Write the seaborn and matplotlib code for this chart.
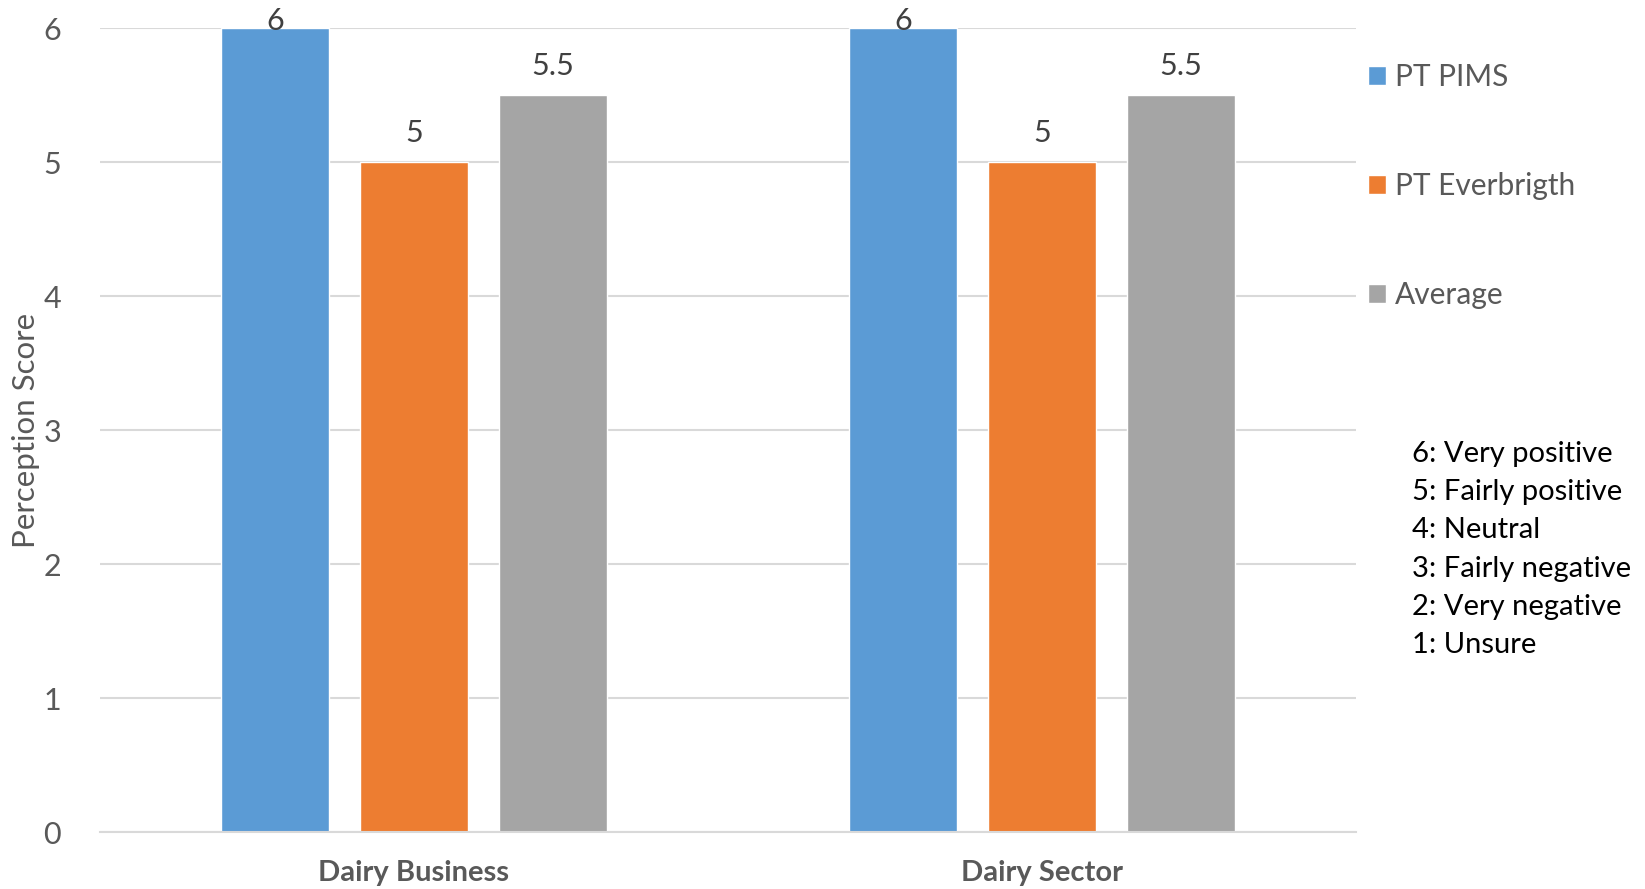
import matplotlib
matplotlib.use("Agg")
import matplotlib.pyplot as plt
import seaborn as sns
import pandas as pd

# Perception scores per topic and organisation
categories = ["Dairy Business", "Dairy Sector"]
series = ["PT PIMS", "PT Everbrigth", "Average"]
pt_pims = [6, 6]
pt_everbrigth = [5, 5]
average = [5.5, 5.5]
y_ticks = [0, 1, 2, 3, 4, 5, 6]
scale_notes = [
    "6: Very positive",
    "5: Fairly positive",
    "4: Neutral",
    "3: Fairly negative",
    "2: Very negative",
    "1: Unsure",
]
palette = ["#5B9BD5", "#ED7D31", "#A5A5A5"]

df = pd.DataFrame({
    "Category": categories * 3,
    "Series": [s for s in series for _ in categories],
    "Score": pt_pims + pt_everbrigth + average,
})

sns.set_theme(style="white")
plt.rcParams["font.family"] = ["Lato", "DejaVu Sans"]

fig = plt.figure(figsize=(16.45, 8.89), dpi=100)
ax = fig.add_axes([100 / 1645, 1 - 832 / 889, 1256 / 1645, 804 / 889])

sns.barplot(data=df, x="Category", y="Score", hue="Series", order=categories,
            hue_order=series, palette=palette, width=0.664, gap=0.216,
            saturation=1, ax=ax, legend=True)

ax.set_xlim(-0.5, 1.5)
ax.set_ylim(0, 6)
ax.set_yticks(y_ticks)
ax.yaxis.grid(True, color="#D9D9D9", linewidth=1.5)
ax.set_axisbelow(True)
for side in ["top", "right", "left"]:
    ax.spines[side].set_visible(False)
ax.spines["bottom"].set_color("#D9D9D9")
ax.spines["bottom"].set_linewidth(1.5)

ax.tick_params(axis="y", length=0, labelsize=22, labelcolor="#595959", pad=28)
ax.tick_params(axis="x", which="major", length=0, labelsize=21, labelcolor="#595959", pad=20)
for lbl in ax.get_xticklabels():
    lbl.set_fontweight("bold")
ax.set_xticks([-0.5, 0.5, 1.5], minor=True)
ax.tick_params(axis="x", which="minor", length=7, width=1.5, color="#D9D9D9")

ax.set_xlabel("")
ax.set_ylabel("Perception Score", fontsize=22.5, color="#595959")
ax.yaxis.set_label_coords(-74 / 1256, 0.5)
ax.yaxis.label.set_va("center")

# Value labels above each bar; the top row sits just under the figure edge
for cont in ax.containers:
    for patch in cont:
        h = patch.get_height()
        off = 5 if h >= 6 else 21
        ax.annotate(f"{h:g}", (patch.get_x() + patch.get_width() / 2, h),
                    xytext=(0, off), textcoords="offset points",
                    ha="center", va="center", fontsize=22, color="#404040",
                    annotation_clip=False)

handles, labels = ax.get_legend_handles_labels()
ax.legend(handles, labels, loc="upper left", bbox_to_anchor=(1368 / 1645, 1 - 63 / 889),
          bbox_transform=fig.transFigure, frameon=False, fontsize=21.5,
          labelcolor="#595959", handlelength=0.6, handleheight=0.6,
          handletextpad=0.3, labelspacing=2.72, borderpad=0, borderaxespad=0)

fig.text(1412 / 1645, 1 - 441 / 889, "\n".join(scale_notes), ha="left", va="top",
         fontsize=21, color="black", linespacing=1.58)

fig.savefig("out.png", dpi=100, facecolor="white")
